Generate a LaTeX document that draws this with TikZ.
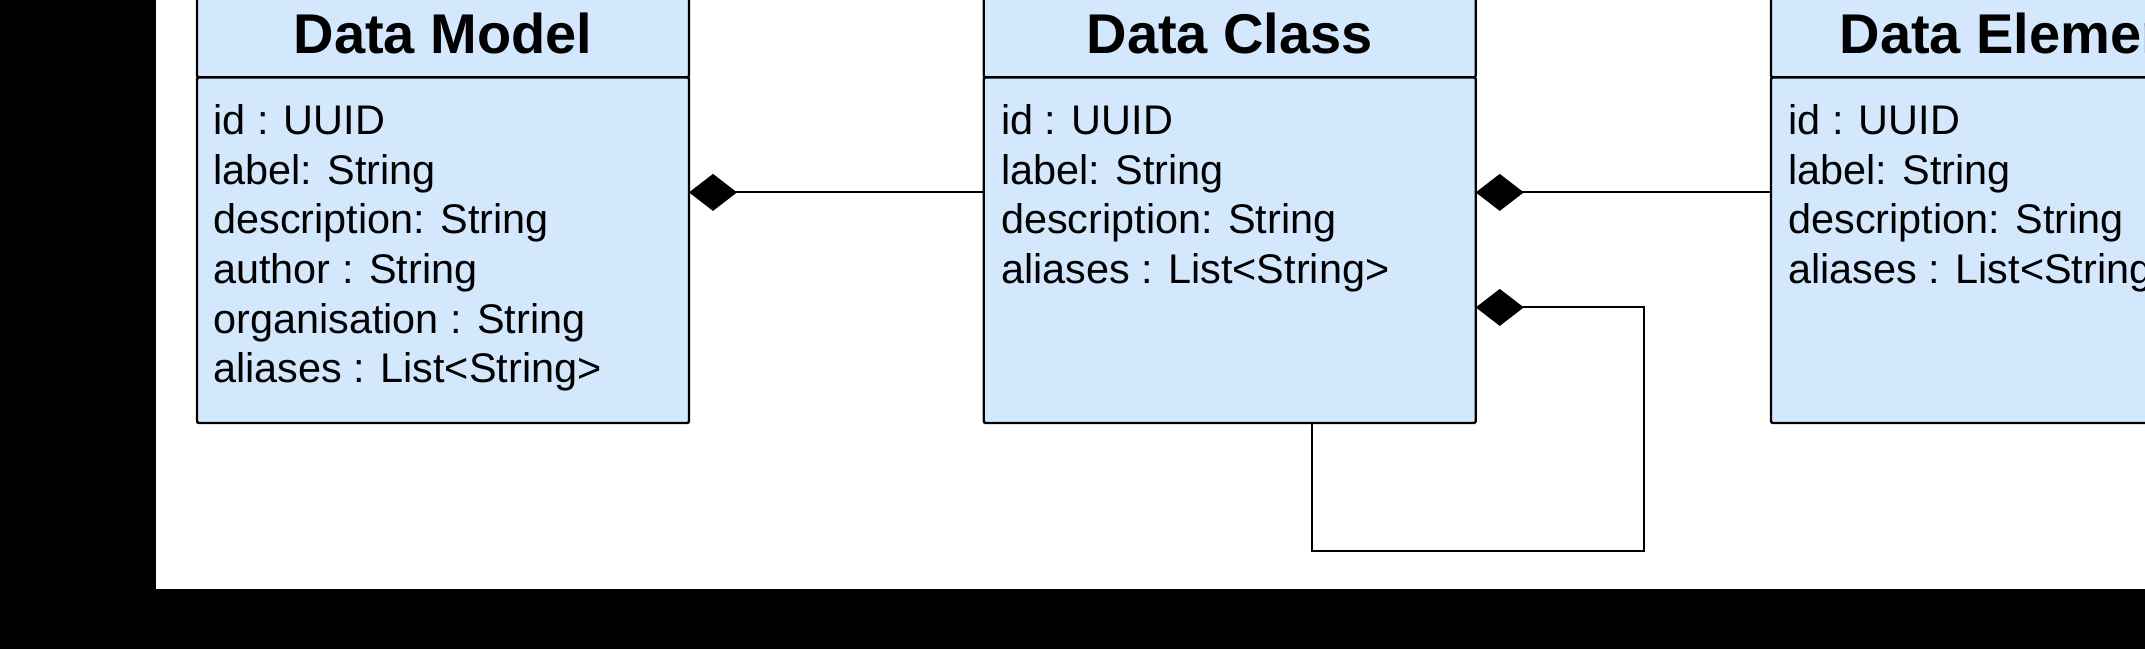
\documentclass[tikz,border=0pt]{standalone}
\usepackage{fontspec}
\setmainfont{Liberation Sans}
\usetikzlibrary{arrows.meta,positioning}
\definecolor{clsfill}{RGB}{212,232,253}
\newcommand{\hdfont}{\bfseries\fontsize{28pt}{33pt}\selectfont}
\newcommand{\atfont}{\fontsize{20.7pt}{24.85pt}\selectfont}

\begin{document}
\begin{tikzpicture}[x=0.5pt, y=-0.5pt,
  hd/.style={draw, fill=clsfill, line width=1.2pt, rounded corners=1pt,
             outer sep=0pt, inner sep=0pt, minimum width=246pt,
             minimum height=43.7pt, font=\hdfont},
  bd/.style={hd, minimum height=172.8pt},
  attr/.style={font=\atfont, align=left, inner sep=0pt, anchor=base west},
  comp/.style={{Diamond[length=24pt, width=18.5pt]}-, line width=1pt}]
\clip (0,0) rectangle (2145,649);
\fill[black] (0,0) rectangle (2145,649);
\fill[white] (156,0) rectangle (2145,589);
% classes
\node[hd] (dmH) at (443,33.7) {Data Model};
\node[bd, below=0pt of dmH] (dmB) {};
\node[attr] (dmA) at ([xshift=8pt, yshift=-152.75pt]dmB.north west)
  {id : UUID\\label: String\\description: String\\author : String\\organisation : String\\aliases : List<String>};
\node[hd] (dcH) at (1229.75,33.7) {Data Class};
\node[bd, below=0pt of dcH] (dcB) {};
\node[attr] (dcA) at ([xshift=8.5pt, yshift=-103.1pt]dcB.north west)
  {id : UUID\\label: String\\description: String\\aliases : List<String>};
\node[hd] (deH) at (2017,33.7) {Data Element};
\node[bd, below=0pt of deH] (deB) {};
\node[attr] (deA) at ([xshift=8.5pt, yshift=-103.1pt]deB.north west)
  {id : UUID\\label: String\\description: String\\aliases : List<String>};
% composition links
\draw[comp] ([yshift=-57.5pt]dmB.north east) -- ([yshift=-57.5pt]dcB.north west);
\draw[comp] ([yshift=-57.5pt]dcB.north east) -- ([yshift=-57.5pt]deB.north west);
\coordinate (loop) at (1644,550.5);
\draw[comp] ([yshift=-115pt]dcB.north east) -| (loop) -| ([xshift=164pt]dcB.south west);
\end{tikzpicture}
\end{document}
